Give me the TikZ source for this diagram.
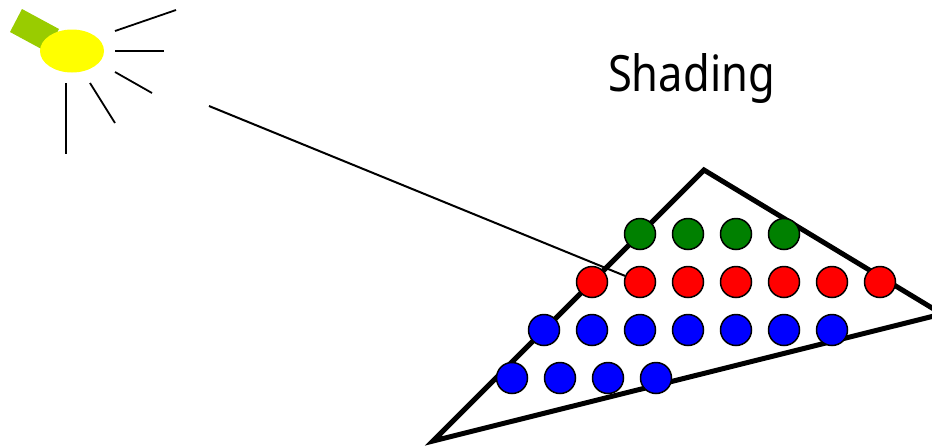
\documentclass[tikz,border=0pt]{standalone}
\usepackage{fontspec}
\setmainfont[FakeStretch=0.87]{Noto Sans}
\usetikzlibrary{shapes.geometric,backgrounds}
\definecolor{lime}{HTML}{99CC00}
\definecolor{bulb}{HTML}{FFFF00}
\definecolor{dotgreen}{HTML}{008000}
\definecolor{dotred}{HTML}{FF0000}
\definecolor{dotblue}{HTML}{0000FF}
\tikzset{
  dot/.style={circle,draw=black,line width=1.5pt,minimum size=31pt,inner sep=0pt},
  ray/.style={line width=1.8pt},
  edge/.style={line width=5pt,line join=miter}
}

\begin{document}
\begin{tikzpicture}[x=1pt,y=-1pt]
  \useasboundingbox (0,0) rectangle (932,445);
  \clip (0,0) rectangle (932,445);
  \node[font=\fontsize{50}{56}\selectfont,anchor=base] (title) at (691.5,91) {Shading};
  % lamp
  \fill[lime] (10,32)--(22,9)--(59,29)--(47,52)--cycle;
  \node[ellipse,fill=bulb,minimum width=64pt,minimum height=43pt,inner sep=0pt] (bulb) at (72,51) {};
  \draw[ray] (115,31)--(176,10);
  \draw[ray] (115,51)--(164,51);
  \draw[ray] (115,72)--(152,93);
  \draw[ray] (90,83)--(115,123);
  \draw[ray] (66,83)--(66,154);
  % sample rows
  \foreach \x [count=\i] in {640,688,736,784}
    \node[dot,fill=dotgreen] (g\i) at (\x,234) {};
  \foreach \x [count=\i] in {592,640,688,736,784,832,880}
    \node[dot,fill=dotred] (r\i) at (\x,282) {};
  \foreach \x [count=\i] in {544,592,640,688,736,784,832}
    \node[dot,fill=dotblue] (b\i) at (\x,330) {};
  \foreach \x [count=\i] in {512,560,608,656}
    \node[dot,fill=dotblue] (c\i) at (\x,378) {};
  \coordinate (A) at (433,441);
  \coordinate (B) at (704,170);
  \coordinate (C) at (942,314);
  \coordinate (ray0) at (209,106);
  \begin{scope}[on background layer]
    \draw[edge] (A)--(B)--(C)--cycle;
    \draw[line width=2pt] (ray0)--(r2);
  \end{scope}
\end{tikzpicture}
\end{document}
